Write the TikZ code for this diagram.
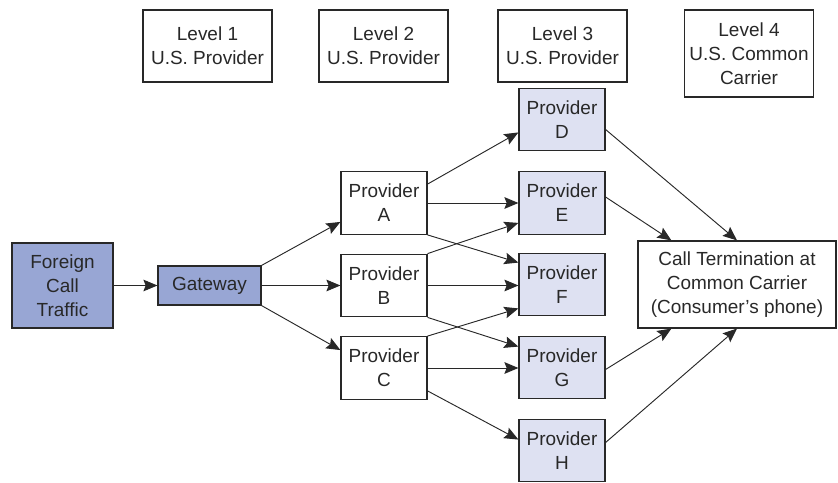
\documentclass[tikz,border=0pt]{standalone}
\usepackage{fontspec}
\setmainfont{Liberation Sans}
\usetikzlibrary{arrows.meta, calc, positioning}
\definecolor{darkfill}{RGB}{152,166,212}
\definecolor{lightfill}{RGB}{222,225,242}
\definecolor{inkgray}{RGB}{40,40,40}
\newcommand{\drawl}{\draw[line width=0.8pt, color=inkgray]}
\tikzset{
  box/.style={draw=inkgray, line width=1pt, text=inkgray, align=center,
    inner sep=0pt, font=\fontsize{16.2}{20.5}\selectfont},
  level/.style={box, minimum width=3.87cm, minimum height=2.16cm},
  prov/.style={box, minimum width=2.58cm, minimum height=1.88cm},
  provb/.style={prov, fill=lightfill}
}

\begin{document}
\begin{tikzpicture}[x=0.03cm, y=-0.03cm, >={Stealth[length=12pt, width=10pt, inset=2pt]}]
\useasboundingbox (0,0) rectangle (838,483);
% Levels
\node[level] (lvla) at (207.5,46) {Level 1\\U.S. Provider};
\node[level] (lvlb) at (383.5,46) {Level 2\\U.S. Provider};
\node[level] (lvlc) at (562.5,46) {Level 3\\U.S. Provider};
\node[level, minimum height=2.61cm] (lvld) at (749,53.5) {Level 4\\U.S. Common\\Carrier};
% Source and gateway
\node[box, fill=darkfill, minimum width=3.03cm, minimum height=2.55cm] (ft) at (62.5,285.5) {Foreign\\Call\\Traffic};
\node[box, fill=darkfill, minimum width=3.09cm, minimum height=1.17cm] (gw) at (209.5,285.5) {Gateway};
% Level 2 providers
\node[prov] (pa) at (384,203) {Provider\\A};
\node[prov] (pb) at (384,285.5) {Provider\\B};
\node[prov] (pc) at (384,368) {Provider\\C};
% Level 3 providers
\node[provb] (pd) at (562,119.5) {Provider\\D};
\node[provb] (pe) at (562,203) {Provider\\E};
\node[provb] (pf) at (562,284.5) {Provider\\F};
\node[provb] (pg) at (562,367.5) {Provider\\G};
\node[provb] (ph) at (562,450.5) {Provider\\H};
% Termination
\node[box, minimum width=5.94cm, minimum height=2.61cm] (ct) at (737,284.5) {Call Termination at\\Common Carrier\\(Consumer’s phone)};
% Links
\drawl[->] (ft) -- (gw);
\drawl[->] (gw.north east) -- ($(pa.south west)+(0,-13)$);
\drawl[->] (gw) -- (pb);
\drawl[->] (gw.south east) -- ($(pc.north west)+(0,14)$);
\drawl[->] ($(pa.north east)+(0,13)$) -- ($(pd.south west)+(0,-19)$);
\drawl[->] (pa) -- (pe);
\drawl[->] (pa.south east) -- ($(pf.north west)+(0,10)$);
\drawl[->] (pb.north east) -- ($(pe.south west)+(0,-12)$);
\drawl[->] (pb.east) -- (pb.east -| pf.west);
\drawl[->] (pb.south east) -- ($(pg.north west)+(0,11)$);
\drawl[->] (pc.north east) -- ($(pf.south west)+(0,-8)$);
\drawl[->] (pc.east) -- (pc.east -| pg.west);
\drawl[->] ($(pc.south east)+(0,-9)$) -- ($(ph.north west)+(0,21)$);
\drawl[->] ($(pd.east)+(0,10)$) -- (ct.north);
\drawl[->] ($(pe.east)+(0,-6)$) -- ($(ct.north west)+(34,0)$);
\drawl[->] ($(pg.east)+(0,2)$) -- ($(ct.south west)+(34,0)$);
\drawl[->] ($(ph.east)+(0,-8)$) -- (ct.south);
\end{tikzpicture}
\end{document}
